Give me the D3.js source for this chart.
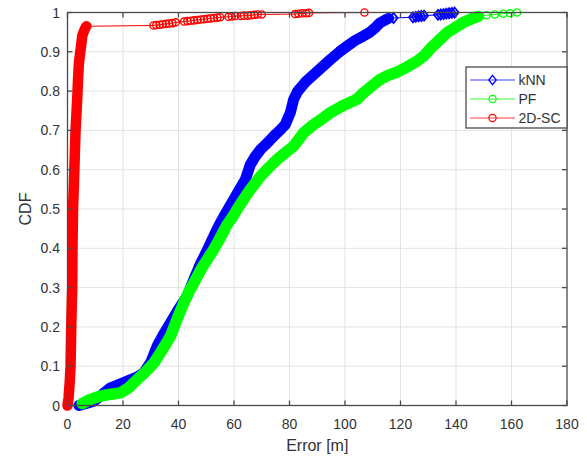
<!DOCTYPE html>
<html>
<head>
<meta charset="utf-8">
<script src="https://cdn.jsdelivr.net/npm/d3@7"></script>
<style>
  html, body { margin: 0; padding: 0; background: #fff; }
  svg { display: block; }
  text { font-family: "Liberation Sans", Arial, sans-serif; }
</style>
</head>
<body>
<svg id="chart" width="587" height="458"></svg>
<script>
// ---------- data ----------
const xTicks = [0, 20, 40, 60, 80, 100, 120, 140, 160, 180];
const yTicks = [0, 0.1, 0.2, 0.3, 0.4, 0.5, 0.6, 0.7, 0.8, 0.9, 1];
const seriesNames = ["kNN", "PF", "2D-SC"];

// kNN: dense part (markers overlap into a band) and sparse tail
const knnBandErr = [4.1, 6, 8, 9.5, 12, 15.5, 18, 21.5, 25, 27.5, 30, 32.3, 34.5, 37.1, 40, 43.1, 45.5, 47.9, 50.9, 53, 55.1, 57.5, 59.9, 62, 64.1, 65.9, 67.5, 69.5, 72, 74.3, 76.5, 78.5, 80.3, 81.5, 83, 86, 90, 94.7, 98, 100.7, 103.5, 106.6, 109, 111, 112.7, 114.5, 115.7];
const knnBandCdf = [0, 0.004, 0.008, 0.011, 0.025, 0.045, 0.052, 0.062, 0.072, 0.083, 0.11, 0.151, 0.18, 0.21, 0.245, 0.278, 0.32, 0.36, 0.403, 0.435, 0.465, 0.495, 0.524, 0.55, 0.575, 0.613, 0.632, 0.651, 0.668, 0.685, 0.70, 0.715, 0.745, 0.779, 0.80, 0.825, 0.85, 0.88, 0.90, 0.914, 0.928, 0.94, 0.95, 0.962, 0.974, 0.981, 0.985];
const knnTailErr = [117.5, 124.5, 125.5, 126.5, 127.5, 128.5, 133.5, 134.5, 135.5, 136.5, 137.5, 138.5, 139.5];
const knnTailCdf = [0.986, 0.988, 0.989, 0.99, 0.991, 0.992, 0.994, 0.995, 0.996, 0.997, 0.998, 0.999, 1.0];

// PF
const pfBandErr = [5.3, 8, 11.9, 15, 19.1, 22, 25.1, 28, 31.1, 34, 37.1, 39.5, 41.9, 43.8, 45.5, 48, 50.3, 52.5, 54.5, 57.5, 59.5, 61.1, 63.5, 65.9, 67.8, 69.5, 72.5, 75.5, 78.5, 81.5, 83.3, 85.1, 88.7, 91.5, 94.7, 99, 104.3, 106.7, 109.5, 112.7, 115.5, 118.7, 122, 125.9, 128.5, 131, 134, 137, 140, 143, 146, 148];
const pfBandCdf = [0.005, 0.015, 0.024, 0.028, 0.032, 0.045, 0.066, 0.085, 0.108, 0.14, 0.176, 0.22, 0.261, 0.29, 0.312, 0.345, 0.371, 0.395, 0.42, 0.46, 0.48, 0.499, 0.525, 0.55, 0.567, 0.583, 0.605, 0.626, 0.643, 0.66, 0.677, 0.694, 0.715, 0.728, 0.745, 0.762, 0.779, 0.796, 0.812, 0.83, 0.84, 0.848, 0.86, 0.876, 0.89, 0.91, 0.93, 0.95, 0.963, 0.976, 0.985, 0.99];
const pfTailErr = [151, 154, 157, 159.5, 162];
const pfTailCdf = [0.993, 0.995, 0.997, 0.998, 1.0];

// 2D-SC
const scBandErr = [0, 0.4, 0.8, 1.1, 1.3, 1.5, 1.7, 1.8, 2.0, 2.3, 2.6, 2.9, 3.2, 3.5, 3.8, 4.1, 4.6, 5.0, 5.3, 5.9, 6.4, 6.8];
const scBandCdf = [0, 0.02, 0.06, 0.1, 0.18, 0.25, 0.3, 0.4, 0.5, 0.56, 0.63, 0.7, 0.74, 0.78, 0.83, 0.87, 0.9, 0.92, 0.94, 0.952, 0.96, 0.965];
const scTailErr = [31, 32, 33.2, 34.3, 35.5, 36.6, 37.8, 39, 42, 43.2, 44.4, 45.6, 46.8, 48, 49.2, 50.4, 51.6, 52.8, 54, 55, 58, 59.2, 60.5, 62.5, 63.6, 65, 66.2, 67.3, 68.5, 70, 82, 83.2, 84.6, 86, 87, 107];
const scTailCdf = [0.967, 0.968, 0.969, 0.97, 0.971, 0.972, 0.973, 0.975, 0.977, 0.978, 0.979, 0.98, 0.981, 0.982, 0.983, 0.984, 0.985, 0.986, 0.987, 0.988, 0.989, 0.99, 0.991, 0.991, 0.992, 0.992, 0.993, 0.994, 0.995, 0.995, 0.996, 0.997, 0.998, 0.998, 0.999, 1.0];

// ---------- layout ----------
const svg = d3.select("#chart");
const pLeft = 67.5, pRight = 567, pTop = 12.5, pBottom = 405.5;
const x = d3.scaleLinear().domain([0, 180]).range([pLeft, pRight]);
const y = d3.scaleLinear().domain([0, 1]).range([pBottom, pTop]);

const axisColor = "#4a4a4a";
const textColor = "#333333";
const gridColor = "#e3e3e3";

// grid
const grid = svg.append("g");
grid.selectAll(".gx").data(xTicks.slice(1, -1)).enter().append("line")
  .attr("x1", d => x(d)).attr("x2", d => x(d)).attr("y1", pTop).attr("y2", pBottom)
  .attr("stroke", gridColor).attr("stroke-width", 1);
grid.selectAll(".gy").data(yTicks.slice(1, -1)).enter().append("line")
  .attr("y1", d => y(d)).attr("y2", d => y(d)).attr("x1", pLeft).attr("x2", pRight)
  .attr("stroke", gridColor).attr("stroke-width", 1);

// series
const series = [
  { name: seriesNames[0], color: "#0000ff", marker: "diamond", bandW: 11,
    band: knnBandErr.map((e, i) => [e, knnBandCdf[i]]), tail: knnTailErr.map((e, i) => [e, knnTailCdf[i]]) },
  { name: seriesNames[1], color: "#00ff00", marker: "circle", bandW: 11.5,
    band: pfBandErr.map((e, i) => [e, pfBandCdf[i]]), tail: pfTailErr.map((e, i) => [e, pfTailCdf[i]]) },
  { name: seriesNames[2], color: "#ff0000", marker: "circle", bandW: 10.5,
    band: scBandErr.map((e, i) => [e, scBandCdf[i]]), tail: scTailErr.map((e, i) => [e, scTailCdf[i]]) }
];

const line = d3.line().x(d => x(d[0])).y(d => y(d[1]));
const diamondPath = (cx, cy, r) => `M${cx},${cy - r}L${cx + r * 0.8},${cy}L${cx},${cy + r}L${cx - r * 0.8},${cy}Z`;

function drawMarker(g, m, cx, cy, color, big) {
  if (m === "diamond") {
    g.append("path").attr("d", diamondPath(cx, cy, big ? 5 : 4.6))
      .attr("fill", "none").attr("stroke", color).attr("stroke-width", big ? 1.8 : 1.3);
  } else {
    g.append("circle").attr("cx", cx).attr("cy", cy).attr("r", 3.6)
      .attr("fill", "none").attr("stroke", color).attr("stroke-width", big ? 1.4 : 1.2);
  }
}

series.forEach(s => {
  const g = svg.append("g");
  const all = s.band.concat(s.tail);
  g.append("path").attr("d", line(all)).attr("fill", "none")
    .attr("stroke", s.color).attr("stroke-width", 1);
  g.append("path").attr("d", line(s.band)).attr("fill", "none")
    .attr("stroke", s.color).attr("stroke-width", s.bandW)
    .attr("stroke-linejoin", "round").attr("stroke-linecap", "round");
  s.tail.forEach(d => drawMarker(g, s.marker, x(d[0]), y(d[1]), s.color, true));
});

// axes box
svg.append("rect").attr("x", pLeft).attr("y", pTop).attr("width", pRight - pLeft).attr("height", pBottom - pTop)
  .attr("fill", "none").attr("stroke", axisColor).attr("stroke-width", 1.3);

// ticks (inward, all four sides)
const tickLen = 5;
xTicks.forEach(t => {
  svg.append("line").attr("x1", x(t)).attr("x2", x(t)).attr("y1", pBottom).attr("y2", pBottom - tickLen)
    .attr("stroke", axisColor).attr("stroke-width", 1.3);
  svg.append("line").attr("x1", x(t)).attr("x2", x(t)).attr("y1", pTop).attr("y2", pTop + tickLen)
    .attr("stroke", axisColor).attr("stroke-width", 1.3);
});
yTicks.forEach(t => {
  svg.append("line").attr("x1", pLeft).attr("x2", pLeft + tickLen).attr("y1", y(t)).attr("y2", y(t))
    .attr("stroke", axisColor).attr("stroke-width", 1.3);
  svg.append("line").attr("x1", pRight).attr("x2", pRight - tickLen).attr("y1", y(t)).attr("y2", y(t))
    .attr("stroke", axisColor).attr("stroke-width", 1.3);
});

// tick labels
svg.append("g").selectAll("text").data(xTicks).enter().append("text")
  .attr("x", d => x(d)).attr("y", 429).attr("text-anchor", "middle")
  .attr("font-size", 14).attr("fill", textColor).text(d => d);
svg.append("g").selectAll("text").data(yTicks).enter().append("text")
  .attr("x", 60).attr("y", d => y(d) + 5).attr("text-anchor", "end")
  .attr("font-size", 14).attr("fill", textColor).text(d => d3.format("~g")(d));

// axis labels
svg.append("text").attr("x", (pLeft + pRight) / 2).attr("y", 451).attr("text-anchor", "middle")
  .attr("font-size", 16).attr("fill", textColor).text("Error [m]");
svg.append("text").attr("transform", `translate(31,${(pTop + pBottom) / 2}) rotate(-90)`)
  .attr("text-anchor", "middle").attr("font-size", 16).attr("fill", textColor).text("CDF");

// legend
const lg = svg.append("g");
lg.append("rect").attr("x", 466).attr("y", 67).attr("width", 101).attr("height", 61)
  .attr("fill", "#fff").attr("stroke", axisColor).attr("stroke-width", 1.3);
const legendY = [80, 99, 118];
series.forEach((s, i) => {
  const ly = legendY[i];
  lg.append("line").attr("x1", 470).attr("x2", 515).attr("y1", ly).attr("y2", ly)
    .attr("stroke", s.color).attr("stroke-width", 1).attr("opacity", 0.75);
  drawMarker(lg, s.marker, 492.5, ly, s.color, false);
  lg.append("text").attr("x", 518.5).attr("y", ly + 5).attr("font-size", 14)
    .attr("fill", textColor).text(s.name);
});
</script>
</body>
</html>
